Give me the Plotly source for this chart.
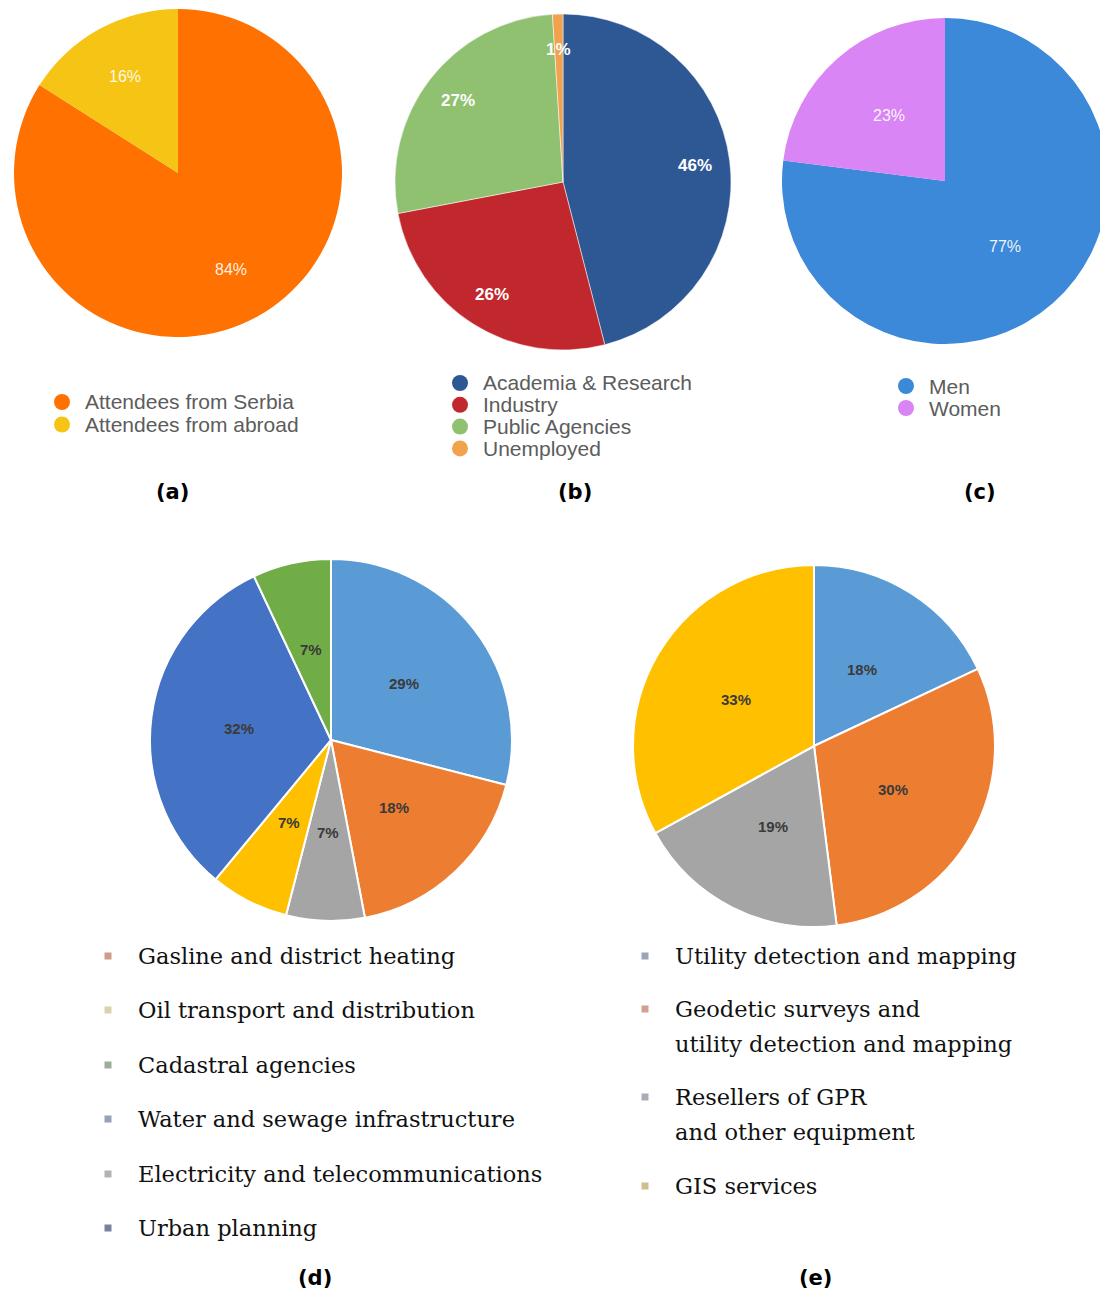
import math
import plotly.graph_objects as go

# page is 1108x1294; the html body adds an 8px offset, so the figure is 8px smaller
OFF = 8
W, H = 1100, 1286

# ---------------- data ----------------
a_labels = ["Attendees from Serbia", "Attendees from abroad"]
a_values = [84, 16]
a_colors = ["#FF7100", "#F5C414"]

b_labels = ["Academia & Research", "Industry", "Public Agencies", "Unemployed"]
b_values = [46, 26, 27, 1]
b_colors = ["#2D5893", "#C1282E", "#8FC170", "#F1A24C"]

c_labels = ["Men", "Women"]
c_values = [77, 23]
c_colors = ["#3C89D9", "#DA85F5"]

# slice order (clockwise from 12 o'clock)
d_labels = ["Water and sewage infrastructure", "Gasline and district heating",
            "Electricity and telecommunications", "Oil transport and distribution",
            "Urban planning", "Cadastral agencies"]
d_values = [29, 18, 7, 7, 32, 7]
d_colors = ["#5B9BD5", "#ED7D31", "#A5A5A5", "#FFC000", "#4472C4", "#70AD47"]
# legend order
d_legend = ["Gasline and district heating", "Oil transport and distribution",
            "Cadastral agencies", "Water and sewage infrastructure",
            "Electricity and telecommunications", "Urban planning"]
d_legend_marks = ["#C98A78", "#CFCBA0", "#8E9E8A", "#8292AC", "#A4A4AA", "#5E6C8C"]

e_labels = ["Utility detection and mapping",
            "Geodetic surveys and<br>utility detection and mapping",
            "Resellers of GPR<br>and other equipment", "GIS services"]
e_values = [18, 30, 19, 33]
e_colors = ["#5B9BD5", "#ED7D31", "#A5A5A5", "#FFC000"]
e_legend_marks = ["#8C94A8", "#C8907C", "#9A9EA8", "#C8B47C"]

panel_tags = ["(a)", "(b)", "(c)", "(d)", "(e)"]

# ---------------- geometry helpers (page pixel -> paper) ----------------
def px(x):
    return (x - OFF) / W

def py(y):
    return 1 - (y - OFF) / H

fig = go.Figure()
annotations = []
shapes = []

def add_pie(labels, values, colors, cx, cy, r, frac, font, line_w=0, line_c="white"):
    x0p, x1p = cx - r, cx + r
    fig.add_trace(go.Pie(
        labels=labels, values=values, sort=False, direction="clockwise", rotation=0,
        marker=dict(colors=colors, line=dict(color=line_c, width=line_w)),
        textinfo="none", hoverinfo="label+percent", showlegend=False,
        domain=dict(x=[max(0, px(x0p)), min(1, px(x1p))],
                    y=[max(0, py(cy + r)), min(1, py(cy - r))]),
    ))
    total = sum(values)
    cum = 0
    for v in values:
        mid = (cum + v / 2) / total * 2 * math.pi
        cum += v
        rr = frac * r
        tx = cx + rr * math.sin(mid)
        ty = cy - rr * math.cos(mid)
        annotations.append(dict(
            x=px(tx), y=py(ty), xref="paper", yref="paper", showarrow=False,
            text=f"{round(v / total * 100)}%", font=font,
            xanchor="center", yanchor="middle"))

lab_font_w = dict(family="Liberation Sans, Arial", size=16, color="rgba(255,255,255,0.92)")
lab_font_d = dict(family="Liberation Sans, Arial", size=15, color="#3a3a3a", weight="bold")

add_pie(a_labels, a_values, a_colors, 178, 173, 164, 0.67, lab_font_w)
add_pie(b_labels, b_values, b_colors, 563, 182, 168, 0.79,
        dict(family="Liberation Sans, Arial", size=17, color="white", weight="bold"),
        line_w=1, line_c="rgba(255,255,255,0.5)")
add_pie(c_labels, c_values, c_colors, 947, 181, 165, 0.53, lab_font_w)
add_pie(d_labels, d_values, d_colors, 331, 740, 181, 0.51, lab_font_d, line_w=2)
add_pie(e_labels, e_values, e_colors, 814, 746, 181, 0.50, lab_font_d, line_w=2)

# ---------------- legends (a)-(c): circles + sans text ----------------
def sans_legend(labels, colors, xm, y0, dy):
    for i, (lab, col) in enumerate(zip(labels, colors)):
        y = y0 + i * dy
        rad = 8
        shapes.append(dict(type="circle", xref="paper", yref="paper",
                           x0=px(xm - rad), x1=px(xm + rad), y0=py(y + rad), y1=py(y - rad),
                           fillcolor=col, line=dict(width=0)))
        annotations.append(dict(x=px(xm + 21), y=py(y), xref="paper", yref="paper",
                                showarrow=False, text=lab, xanchor="left", yanchor="middle",
                                font=dict(family="Liberation Sans, Arial", size=21,
                                          color="#5c5c5c")))

sans_legend(a_labels, a_colors, 62, 402, 22.5)
sans_legend(b_labels, b_colors, 460, 383, 21.8)
sans_legend(c_labels, c_colors, 906, 386, 22)

# ---------------- legends (d),(e): small squares + serif text ----------------
serif = dict(family="DejaVu Serif, serif", size=22.5, color="#111111")
LINE = 34.5

def serif_legend(labels, marks, xm, ys):
    for lab, col, y in zip(labels, marks, ys):
        s = 3.5
        shapes.append(dict(type="rect", xref="paper", yref="paper",
                           x0=px(xm - s), x1=px(xm + s), y0=py(y + s), y1=py(y - s),
                           fillcolor=col, line=dict(width=0), opacity=0.85))
        for k, line in enumerate(lab.split("<br>")):
            annotations.append(dict(x=px(xm + 28), y=py(y + k * LINE), xref="paper",
                                    yref="paper", showarrow=False, text=line,
                                    xanchor="left", yanchor="middle", font=serif))

serif_legend(d_legend, d_legend_marks, 108, [956, 1010, 1065, 1119, 1174, 1228])
serif_legend(e_labels, e_legend_marks, 645, [956, 1009, 1097, 1186])

# ---------------- panel tags ----------------
tag_pos = [(172, 492), (575, 492), (980, 492), (315, 1278), (815, 1278)]
for t, (x, y) in zip(panel_tags, tag_pos):
    annotations.append(dict(x=px(x), y=py(y), xref="paper", yref="paper", showarrow=False,
                            text=f"<b>{t}</b>", xanchor="center", yanchor="middle",
                            font=dict(family="DejaVu Sans, Verdana", size=21, color="black")))

fig.update_layout(
    width=W, height=H, autosize=False,
    margin=dict(l=0, r=0, t=0, b=0),
    paper_bgcolor="white", plot_bgcolor="white",
    annotations=annotations, shapes=shapes,
)

fig.write_html("out.html")
